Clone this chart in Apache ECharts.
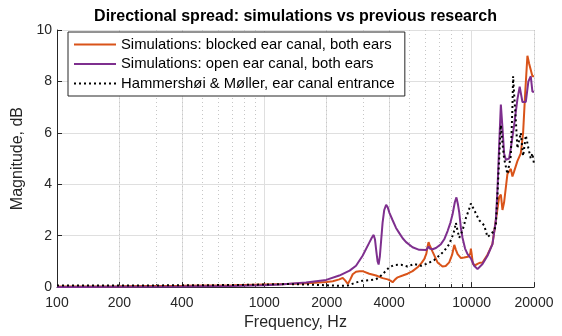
<!DOCTYPE html>
<html>
<head>
<meta charset="utf-8">
<script src="https://cdn.jsdelivr.net/npm/echarts@6/dist/echarts.min.js"></script>
<style>
  html, body { margin: 0; padding: 0; background: #fff; }
  #chart { width: 562px; height: 336px; }
</style>
</head>
<body>
<div id="chart"></div>
<script>
// Directional spread (dB) versus frequency (Hz)

const titleText = 'Directional spread: simulations vs previous research';
const seriesNames = [
  'Simulations: blocked ear canal, both ears',
  'Simulations: open ear canal, both ears',
  'Hammershøi & Møller, ear canal entrance'
];

// Labelled frequency ticks and the minor (unlabelled) decade subdivisions
const xTicks = [100, 200, 400, 1000, 2000, 4000, 10000, 20000];
const xMinorTicks = [200, 300, 400, 500, 600, 700, 800, 900, 2000, 3000, 4000, 5000, 6000, 7000, 8000, 9000, 20000];
const yTicks = [0, 2, 4, 6, 8, 10];

// Simulations, blocked ear canal
const blockedFreq = [100, 200, 400, 700, 1000, 1300, 1600, 2000, 2140, 2300, 2390, 2460, 2530, 2600, 2670, 2770, 2880, 2980, 3210, 3460, 3720, 3940, 4060, 4160, 4280, 4400, 4650, 4910, 5190, 5490, 5750, 5910, 6050, 6140, 6200, 6260, 6480, 6850, 7240, 7500, 7800, 8050, 8250, 8400, 8560, 8880, 9200, 9390, 9600, 9740, 9860, 9920, 10000, 10150, 10400, 10680, 11000, 11290, 11930, 12600, 13090, 13580, 13840, 14090, 14350, 14890, 15460, 15740, 16040, 16630, 17270, 17720, 18120, 18590, 18940, 19650, 20000];
const blockedMag = [0.02, 0.03, 0.05, 0.07, 0.1, 0.12, 0.15, 0.2, 0.23, 0.3, 0.36, 0.25, 0.12, 0.3, 0.5, 0.6, 0.62, 0.62, 0.52, 0.45, 0.35, 0.3, 0.25, 0.19, 0.3, 0.38, 0.45, 0.52, 0.62, 0.77, 0.95, 1.09, 1.3, 1.6, 1.75, 1.65, 1.38, 0.96, 0.8, 0.82, 0.96, 1.25, 1.64, 1.45, 1.28, 1.13, 1.15, 1.2, 1.18, 1.12, 1.3, 1.5, 1.3, 0.9, 0.85, 0.9, 0.95, 0.96, 1.26, 1.67, 2.6, 3.5, 3.6, 3.0, 3.3, 4.4, 4.6, 4.3, 4.5, 4.9, 5.2, 6.0, 7.5, 9.0, 8.7, 8.2, 8.2];

// Simulations, open ear canal
const openFreq = [100, 200, 400, 700, 1000, 1190, 1590, 1990, 2300, 2580, 2770, 2980, 3210, 3300, 3370, 3420, 3470, 3520, 3560, 3610, 3660, 3720, 3790, 3870, 3940, 4010, 4160, 4320, 4480, 4650, 4830, 5190, 5590, 6030, 6150, 6200, 6280, 6480, 6730, 7110, 7380, 7660, 7900, 8090, 8300, 8450, 8600, 8720, 8880, 9040, 9300, 9560, 9920, 10290, 10680, 11290, 11930, 12610, 13090, 13330, 13580, 13840, 14090, 14350, 14630, 14890, 15170, 15460, 16040, 16630, 17060, 17590, 18260, 18790, 19300, 19650, 20000];
const openMag = [0.0, 0.01, 0.02, 0.04, 0.07, 0.1, 0.18, 0.28, 0.45, 0.64, 0.83, 1.22, 1.73, 1.92, 2.03, 1.85, 1.4, 1.0, 0.88, 1.2, 1.8, 2.5, 3.0, 3.2, 3.1, 2.9, 2.6, 2.3, 2.1, 1.9, 1.75, 1.55, 1.45, 1.44, 1.5, 1.58, 1.5, 1.47, 1.52, 1.67, 1.86, 2.18, 2.5, 2.82, 3.3, 3.49, 3.2, 2.9, 2.3, 1.92, 1.5, 1.28, 1.12, 0.83, 0.7, 0.9, 1.22, 1.67, 2.6, 3.8, 5.5, 7.1, 6.2, 5.2, 4.95, 4.9, 5.0, 5.4, 6.3, 7.3, 7.8, 7.2, 7.2, 8.0, 8.2, 7.6, 7.6];

// Hammershøi & Møller, ear canal entrance
const hmFreq = [100, 200, 400, 700, 1000, 1300, 1600, 2000, 2300, 2530, 2770, 2980, 3200, 3460, 3660, 3800, 4010, 4240, 4570, 4910, 5290, 5700, 6140, 6600, 7110, 7380, 7800, 8100, 8250, 8400, 8550, 8720, 9040, 9390, 9700, 9920, 10290, 10880, 11500, 11930, 12380, 12850, 13090, 13330, 13580, 13840, 14090, 14350, 14890, 15460, 15740, 15860, 16040, 16340, 16630, 16950, 17270, 17720, 18000, 18260, 18590, 18790, 19300, 19650, 20000];
const hmMag = [0.06, 0.06, 0.07, 0.08, 0.1, 0.12, 0.1, 0.07, 0.05, 0.06, 0.18, 0.25, 0.27, 0.3, 0.45, 0.58, 0.77, 0.86, 0.87, 0.8, 0.9, 0.83, 0.92, 1.05, 1.28, 1.41, 1.67, 2.0, 2.2, 2.5, 2.2, 1.92, 2.2, 2.69, 3.0, 3.25, 3.0, 2.6, 2.4, 1.95, 2.05, 2.2, 2.4, 3.6, 5.0, 6.3, 5.6, 5.0, 4.4, 5.1, 7.0, 8.2, 7.5, 6.5, 5.4, 5.7, 6.0, 5.1, 5.5, 5.9, 5.6, 5.4, 5.0, 5.2, 4.8];

const pairs = (xs, ys) => xs.map((x, i) => [x, ys[i]]);

const FONT = '"Liberation Sans", Arial, Helvetica, sans-serif';
const AXIS = '#262626';
const GRID_MAJOR = '#dfdfdf';
const GRID_MINOR = '#c6c6c6';

const chart = echarts.init(document.getElementById('chart'), null, { renderer: 'canvas' });

const plotLeft = 57, plotRight = 534, plotTop = 30, plotBottom = 290;

chart.setOption({
  animation: false,
  backgroundColor: '#fff',
  textStyle: { fontFamily: FONT },
  grid: {
    left: plotLeft, right: 562 - plotRight, top: plotTop, bottom: 336 - plotBottom,
    containLabel: false
  },
  graphic: [{
    type: 'text',
    x: (plotLeft + plotRight) / 2,
    y: 17,
    style: {
      text: titleText,
      fontFamily: FONT, fontSize: 16, fontWeight: 'bold', fill: '#000',
      align: 'center', verticalAlign: 'middle'
    }
  }],
  legend: {
    data: seriesNames,
    orient: 'vertical',
    left: 68, top: 32,
    padding: [5, 10, 5, 5],
    itemGap: 4.5,
    itemWidth: 42, itemHeight: 14,
    backgroundColor: '#fff',
    borderColor: AXIS, borderWidth: 1, borderRadius: 0,
    selectedMode: false,
    itemStyle: { opacity: 0 },
    textStyle: { fontFamily: FONT, fontSize: 14.8, color: '#000' }
  },
  xAxis: [{
    type: 'log', logBase: 10, min: 100, max: 20000,
    name: 'Frequency, Hz', nameLocation: 'middle', nameGap: 25,
    nameTextStyle: { fontFamily: FONT, fontSize: 16, color: AXIS },
    axisLine: { show: true, lineStyle: { color: AXIS, width: 1 } },
    axisTick: { show: true, inside: true, length: 5, customValues: xTicks, lineStyle: { color: AXIS } },
    axisLabel: {
      customValues: xTicks, margin: 9,
      fontFamily: FONT, fontSize: 14, color: AXIS,
      formatter: v => String(Math.round(v))
    },
    splitLine: { show: true, lineStyle: { color: GRID_MAJOR, width: 1 } },
    minorTick: { show: false }, minorSplitLine: { show: false }
  }, {
    type: 'log', logBase: 10, min: 100, max: 20000,
    position: 'bottom', gridIndex: 0,
    axisLine: { show: false },
    axisTick: { show: true, inside: true, length: 3, customValues: xMinorTicks, lineStyle: { color: AXIS } },
    axisLabel: { show: false },
    splitLine: { show: true, lineStyle: { color: GRID_MINOR, width: 1, type: [1, 3] } }
  }],
  yAxis: {
    type: 'value', min: 0, max: 10, interval: 2,
    name: 'Magnitude, dB', nameLocation: 'middle', nameGap: 25, nameRotate: 90,
    nameTextStyle: { fontFamily: FONT, fontSize: 16, color: AXIS },
    axisLine: { show: true, lineStyle: { color: AXIS, width: 1 } },
    axisTick: { show: true, inside: true, length: 5, lineStyle: { color: AXIS } },
    axisLabel: {
      margin: 5, fontFamily: FONT, fontSize: 14, color: AXIS,
      formatter: v => (yTicks.indexOf(v) >= 0 ? String(v) : '')
    },
    splitLine: { show: true, lineStyle: { color: GRID_MAJOR, width: 1 } }
  },
  series: [{
    name: seriesNames[0], type: 'line', xAxisIndex: 0,
    data: pairs(blockedFreq, blockedMag),
    symbol: 'none', smooth: false,
    lineStyle: { color: '#D95319', width: 2 }, itemStyle: { color: '#D95319' },
    z: 3
  }, {
    name: seriesNames[1], type: 'line', xAxisIndex: 0,
    data: pairs(openFreq, openMag),
    symbol: 'none', smooth: false,
    lineStyle: { color: '#7E2F8E', width: 2 }, itemStyle: { color: '#7E2F8E' },
    z: 4
  }, {
    name: seriesNames[2], type: 'line', xAxisIndex: 0,
    data: pairs(hmFreq, hmMag),
    symbol: 'none', smooth: false,
    lineStyle: { color: '#000', width: 2, type: [2, 3] }, itemStyle: { color: '#000' },
    z: 5
  }]
});
</script>
</body>
</html>
